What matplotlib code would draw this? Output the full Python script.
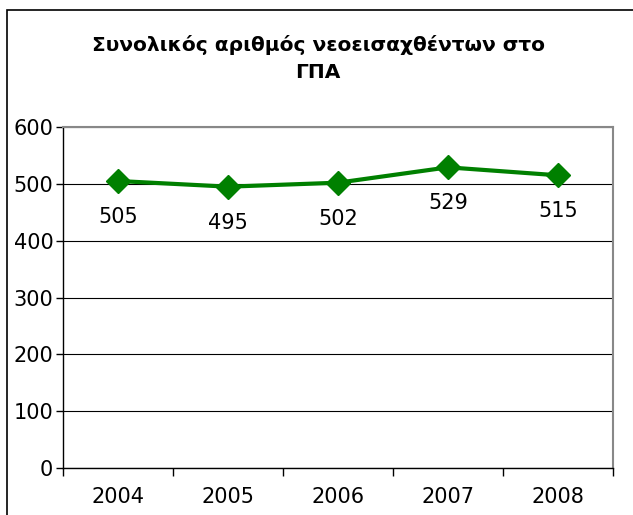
import matplotlib.pyplot as plt
from matplotlib.patches import Rectangle

# data
years = ['2004', '2005', '2006', '2007', '2008']
values = [505, 495, 502, 529, 515]
yticks = [0, 100, 200, 300, 400, 500, 600]

W, H = 633, 515
fig = plt.figure(figsize=(W / 100, H / 100), dpi=100)

# outer chart border (runs off the right and bottom edges)
fig.patches.append(Rectangle((7 / W, -0.05), 1.05, 1 - 10 / H + 0.05,
                             transform=fig.transFigure, fill=False,
                             edgecolor='black', linewidth=1.2))

ax = fig.add_axes([63 / W, 1 - 468 / H, (613 - 63) / W, (468 - 127) / H])
x = list(range(len(years)))
ax.plot(x, values, color='#008000', linewidth=3.0, marker='D',
        markersize=12, markerfacecolor='#008000', markeredgecolor='#008000')

for xi, v in zip(x, values):
    ax.annotate(str(v), (xi, v), xytext=(0, -26), textcoords='offset points',
                ha='center', va='center', fontsize=15)

ax.set_xlim(-0.5, len(years) - 0.5)
ax.set_ylim(0, 600)
ax.set_yticks(yticks)
ax.set_yticklabels([str(t) for t in yticks], fontsize=15)
ax.set_xticks(x)
ax.set_xticklabels(years, fontsize=15)
ax.tick_params(axis='x', length=0, pad=14)
ax.set_xticks([i - 0.5 for i in range(len(years) + 1)], minor=True)
ax.tick_params(axis='x', which='minor', length=6, width=1, color='black')
ax.tick_params(axis='y', length=5, width=1, pad=2)
ax.grid(axis='y', color='black', linewidth=0.8)
ax.set_axisbelow(True)

for s in ['top', 'right']:
    ax.spines[s].set_color('#888888')
    ax.spines[s].set_linewidth(1.5)
for s in ['left', 'bottom']:
    ax.spines[s].set_color('black')
    ax.spines[s].set_linewidth(1)

fig.text(318 / W, 1 - 45 / H, 'Συνολικός αριθμός νεοεισαχθέντων στο',
         ha='center', va='center', fontsize=14.5, fontweight='bold')
fig.text(318 / W, 1 - 72 / H, 'ΓΠΑ',
         ha='center', va='center', fontsize=14.5, fontweight='bold')

fig.savefig('out.png', dpi=100)
